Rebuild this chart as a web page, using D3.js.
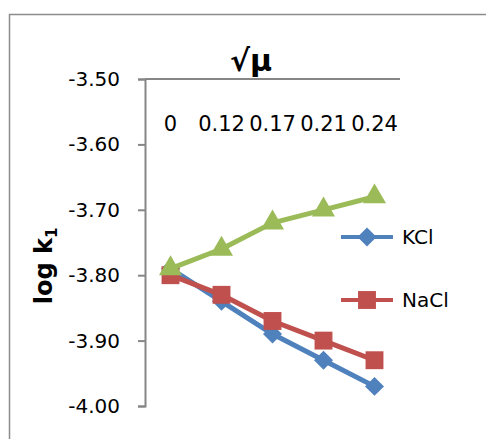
<!DOCTYPE html>
<html>
<head>
<meta charset="utf-8">
<script src="https://cdn.jsdelivr.net/npm/d3@7"></script>
<style>
  html, body { margin: 0; padding: 0; background: #fff; }
  svg { display: block; }
  text { font-family: "DejaVu Sans", sans-serif; fill: #000; }
</style>
</head>
<body>
<svg id="chart" width="486" height="439"></svg>
<script>
// ---- data ----
const categories = ["0", "0.12", "0.17", "0.21", "0.24"];
const kclValues = [-3.79, -3.84, -3.89, -3.93, -3.97];
const naclValues = [-3.80, -3.83, -3.87, -3.90, -3.93];
const thirdValues = [-3.79, -3.76, -3.72, -3.70, -3.68];
const seriesNames = ["KCl", "NaCl", ""];
const yTicks = [-3.50, -3.60, -3.70, -3.80, -3.90, -4.00];
const yTickLabels = ["-3.50", "-3.60", "-3.70", "-3.80", "-3.90", "-4.00"];
const xTitle = "√μ";

// ---- layout ----
const svg = d3.select("#chart");
const plot = { left: 145, right: 400, top: 79, bottom: 406 };
const colors = ["#4F81BD", "#C0504D", "#9BBB59"];
const shapes = [d3.symbolSquare, d3.symbolSquare, d3.symbolTriangle];
const rotations = [45, 0, 0];
const markerSize = [180, 320, 230];

// outer frame
svg.append("rect")
  .attr("x", 9.5).attr("y", 14.5)
  .attr("width", 600).attr("height", 600)
  .attr("fill", "none").attr("stroke", "#8c8c8c").attr("stroke-width", 1.5);

const x = d3.scaleBand().domain(categories).range([plot.left, plot.right]).padding(0);
const y = d3.scaleLinear().domain([-3.5, -4.0]).range([plot.top, plot.bottom]);
const cx = c => x(c) + x.bandwidth() / 2;

// y axis
const yAxis = svg.append("g")
  .attr("transform", `translate(${plot.left},0)`)
  .call(d3.axisLeft(y).tickValues(yTicks).tickSize(7).tickPadding(18)
    .tickFormat((d, i) => yTickLabels[i]));
yAxis.select(".domain").attr("stroke", "#868686").attr("stroke-width", 2);
yAxis.selectAll(".tick line").attr("stroke", "#868686").attr("stroke-width", 2);
yAxis.selectAll(".tick text").style("font-size", "20px").attr("fill", "#000");

// x axis (at top, labels inside plot)
const xAxis = svg.append("g")
  .attr("transform", `translate(0,${plot.top})`)
  .call(d3.axisBottom(x).tickSize(0).tickPadding(37));
xAxis.select(".domain").attr("stroke", "#868686").attr("stroke-width", 2)
  .attr("d", `M${plot.left},0H${plot.right}`);
xAxis.selectAll(".tick text").style("font-size", "21px").attr("fill", "#000");

// x title
svg.append("text")
  .attr("x", 251).attr("y", 71)
  .attr("text-anchor", "middle")
  .style("font-size", "30px").style("font-weight", "bold")
  .text(xTitle);

// y title
const yt = svg.append("text")
  .attr("transform", "translate(52,266) rotate(-90)")
  .attr("text-anchor", "middle")
  .style("font-size", "24px").style("font-weight", "bold");
yt.append("tspan").text("log k");
yt.append("tspan").attr("dy", 5).style("font-size", "15px").text("1");

// series
const allSeries = [kclValues, naclValues, thirdValues];
const line = d3.line().x((d, i) => cx(categories[i])).y(d => y(d));

allSeries.forEach((vals, s) => {
  const g = svg.append("g");
  g.append("path").datum(vals)
    .attr("d", line)
    .attr("fill", "none").attr("stroke", colors[s])
    .attr("stroke-width", 5).attr("stroke-linejoin", "round");
  g.selectAll("path.m").data(vals).enter().append("path")
    .attr("class", "m")
    .attr("transform", (d, i) => `translate(${cx(categories[i])},${y(d)}) rotate(${rotations[s]})`)
    .attr("d", d3.symbol().type(shapes[s]).size(markerSize[s]))
    .attr("fill", colors[s]);
});

// legend (first two series)
const legendY = [237, 300];
[0, 1].forEach(s => {
  const g = svg.append("g").attr("transform", `translate(0,${legendY[s]})`);
  g.append("line").attr("x1", 341).attr("x2", 393).attr("y1", 0).attr("y2", 0)
    .attr("stroke", colors[s]).attr("stroke-width", 4);
  g.append("path").attr("transform", `translate(367,0) rotate(${rotations[s]})`)
    .attr("d", d3.symbol().type(shapes[s]).size(markerSize[s]))
    .attr("fill", colors[s]);
  g.append("text").attr("x", 402).attr("y", 0).attr("dy", "0.36em")
    .style("font-size", "20px").text(seriesNames[s]);
});
</script>
</body>
</html>
